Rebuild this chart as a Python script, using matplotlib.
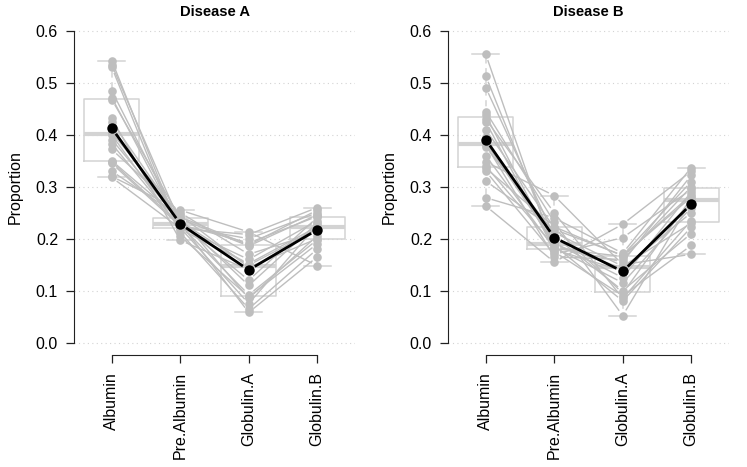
import matplotlib.pyplot as plt
import numpy as np

plt.rcParams['font.family'] = ['Liberation Sans', 'DejaVu Sans']

categories = ['Albumin', 'Pre.Albumin', 'Globulin.A', 'Globulin.B']
panels = ['Disease A', 'Disease B']

# one entry per subject, per category
a_albumin = [0.543, 0.535, 0.530, 0.485, 0.472, 0.468, 0.432, 0.425, 0.410, 0.404,
             0.400, 0.391, 0.383, 0.372, 0.350, 0.348, 0.345, 0.330, 0.320, 0.318]
a_prealbumin = [0.212, 0.230, 0.205, 0.226, 0.221, 0.240, 0.197, 0.236, 0.229, 0.245,
                0.218, 0.233, 0.222, 0.250, 0.238, 0.227, 0.224, 0.242, 0.255, 0.220]
a_globulin_a = [0.065, 0.058, 0.088, 0.092, 0.075, 0.085, 0.140, 0.110, 0.120, 0.145,
                0.152, 0.149, 0.160, 0.170, 0.186, 0.192, 0.200, 0.188, 0.213, 0.208]
a_globulin_b = [0.180, 0.165, 0.190, 0.198, 0.226, 0.206, 0.221, 0.230, 0.241, 0.200,
                0.223, 0.218, 0.235, 0.212, 0.246, 0.243, 0.250, 0.255, 0.148, 0.260]

b_albumin = [0.555, 0.513, 0.491, 0.445, 0.438, 0.430, 0.425, 0.410, 0.395, 0.385,
             0.381, 0.377, 0.360, 0.348, 0.340, 0.336, 0.330, 0.311, 0.279, 0.263]
b_prealbumin = [0.175, 0.187, 0.205, 0.232, 0.183, 0.250, 0.179, 0.221, 0.189, 0.192,
                0.165, 0.212, 0.181, 0.283, 0.185, 0.223, 0.170, 0.218, 0.240, 0.155]
b_globulin_a = [0.090, 0.080, 0.100, 0.052, 0.115, 0.085, 0.138, 0.095, 0.143, 0.125,
                0.160, 0.147, 0.166, 0.150, 0.155, 0.167, 0.202, 0.168, 0.172, 0.228]
b_globulin_b = [0.187, 0.222, 0.210, 0.273, 0.260, 0.235, 0.268, 0.277, 0.250, 0.290,
                0.300, 0.230, 0.285, 0.170, 0.322, 0.280, 0.295, 0.310, 0.337, 0.330]

data = {
    'Disease A': np.array([a_albumin, a_prealbumin, a_globulin_a, a_globulin_b]).T,
    'Disease B': np.array([b_albumin, b_prealbumin, b_globulin_a, b_globulin_b]).T,
}

yticks = [0.0, 0.1, 0.2, 0.3, 0.4, 0.5, 0.6]

GREY = '#bebebe'
BOXGREY = '#d3d3d3'


def r_boxstats(v):
    # R style fivenum hinges and 1.5 IQR whiskers
    v = np.sort(np.asarray(v))
    n = len(v)
    n4 = np.floor((n + 3) / 2) / 2
    d = np.array([1, n4, (n + 1) / 2, n + 1 - n4, n]) - 1
    q = 0.5 * (v[np.floor(d).astype(int)] + v[np.ceil(d).astype(int)])
    iqr = q[3] - q[1]
    lo = v[v >= q[1] - 1.5 * iqr].min()
    hi = v[v <= q[3] + 1.5 * iqr].max()
    return dict(med=q[2], q1=q[1], q3=q[3], whislo=lo, whishi=hi, fliers=[])


def gapped_line(ax, xs, ys, gap, **kw):
    # type="b": segments shortened so they stop short of the points
    pts = ax.transData.transform(np.column_stack([xs, ys]))
    inv = ax.transData.inverted()
    for p0, p1 in zip(pts[:-1], pts[1:]):
        d = p1 - p0
        L = np.hypot(*d)
        if L <= 2 * gap:
            continue
        u = d / L
        seg = inv.transform(np.array([p0 + u * gap, p1 - u * gap]))
        ax.plot(seg[:, 0], seg[:, 1], **kw)


fig = plt.figure(figsize=(7.47, 4.67), dpi=100)
W, H = 747, 467
xpos = np.arange(1, len(categories) + 1)
FS = 11.5

for k, name in enumerate(panels):
    left = [74, 448][k]
    ax = fig.add_axes([left / W, (H - 355) / H, 281 / W, (355 - 18.6) / H])
    ax.set_xlim(0.448, 4.552)
    ax.set_ylim(-0.024, 0.624)
    vals = data[name]

    for y in yticks:
        ax.axhline(y, color='#d3d3d3', lw=0.8, ls=(0, (1, 3)), zorder=0)

    stats = [r_boxstats(vals[:, j]) for j in range(vals.shape[1])]
    ax.bxp(stats, positions=xpos, widths=0.8, showfliers=False,
           boxprops=dict(color=BOXGREY, lw=1.1),
           medianprops=dict(color=BOXGREY, lw=3),
           whiskerprops=dict(color=BOXGREY, lw=1.1, ls=(0, (4, 3))),
           capprops=dict(color=BOXGREY, lw=1.1), capwidths=0.4,
           manage_ticks=False, zorder=1)

    for row in vals:
        gapped_line(ax, xpos, row, 6, color=GREY, lw=1.0, zorder=2,
                    solid_capstyle='butt')
        ax.plot(xpos, row, 'o', color=GREY, ms=6.2, mec='none', zorder=3)

    means = vals.mean(axis=0)
    gapped_line(ax, xpos, means, 7, color='black', lw=2.0, zorder=4,
                solid_capstyle='butt')
    ax.plot(xpos, means, 'o', color='black', ms=7.5, mec='none', zorder=5)

    # R-style detached axes
    for s in ['top', 'right']:
        ax.spines[s].set_visible(False)
    ax.spines['left'].set_bounds(0, 0.6)
    ax.spines['left'].set_color('#222222')
    ax.spines['bottom'].set_bounds(1, 4)
    ax.spines['bottom'].set_color('#222222')

    ax.set_yticks(yticks)
    ax.set_yticklabels([f'{y:.1f}' for y in yticks], fontsize=FS)
    ax.set_xticks(xpos)
    ax.set_xticklabels(categories, rotation=90, fontsize=FS)
    ax.tick_params(axis='both', length=5.5, width=0.9, color='#222222')
    ax.tick_params(axis='y', pad=6)
    ax.tick_params(axis='x', pad=7)
    ax.set_ylabel('Proportion', fontsize=FS, labelpad=9)
    ax.set_title(name, fontsize=10.6, fontweight='bold', pad=2)

fig.savefig('out.png', dpi=100)
